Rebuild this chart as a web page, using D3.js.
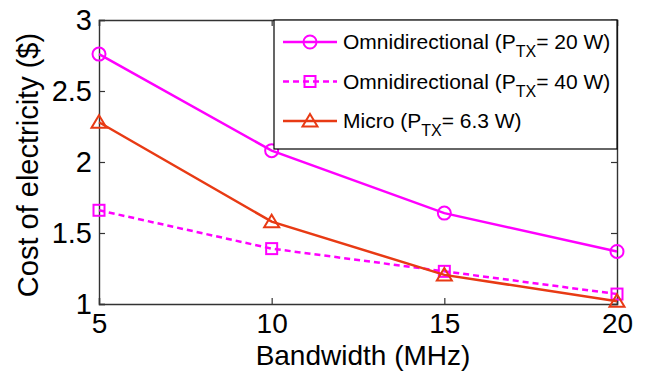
<!DOCTYPE html>
<html>
<head>
<meta charset="utf-8">
<script src="https://cdn.jsdelivr.net/npm/d3@7"></script>
<style>
  body { margin: 0; background: #fff; }
  text { font-family: "Liberation Sans", Arial, sans-serif; fill: #000; }
</style>
</head>
<body>
<script>
const width = 648;
const height = 373;
const margins = { top: 20, left: 99, bottom: 69, right: 31 };

// data
const bandwidth = [5, 10, 15, 20];
const omni20 = [2.76, 2.08, 1.64, 1.37];
const omni40 = [1.66, 1.39, 1.23, 1.07];
const micro = [2.28, 1.58, 1.205, 1.02];
const xTicks = [5, 10, 15, 20];
const yTicks = [1, 1.5, 2, 2.5, 3];

const series = [
  { name: "Omnidirectional (P", sub: "TX", tail: "= 20 W)", values: omni20, color: "#ff00ff", dash: null, marker: "circle" },
  { name: "Omnidirectional (P", sub: "TX", tail: "= 40 W)", values: omni40, color: "#ff00ff", dash: "6,4", marker: "square" },
  { name: "Micro (P", sub: "TX", tail: "= 6.3 W)", values: micro, color: "#e83a14", dash: null, marker: "triangle" },
];

const draw_width = width - margins.left - margins.right;
const draw_height = height - margins.top - margins.bottom;

const svg = d3.select("body").append("svg")
  .attr("width", width)
  .attr("height", height);

const xScale = d3.scaleLinear().domain([5, 20]).range([0, draw_width]);
const yScale = d3.scaleLinear().domain([1, 3]).range([draw_height, 0]);

const chart_g = svg.append("g")
  .attr("transform", "translate(" + margins.left + "," + margins.top + ")");

const axisColor = "#333";

// axes with inward ticks (matlab style box)
const xAxis = chart_g.append("g")
  .attr("transform", "translate(0," + draw_height + ")")
  .call(d3.axisBottom(xScale).tickValues(xTicks).tickSize(-6).tickFormat(d3.format("d")));
xAxis.selectAll("text").attr("y", 29).attr("dy", null).style("font-size", "28px");

const yAxis = chart_g.append("g")
  .call(d3.axisLeft(yScale).tickValues(yTicks).tickSize(-6).tickFormat(d => d));
yAxis.selectAll("text").attr("x", -7).style("font-size", "29px");

const topAxis = chart_g.append("g")
  .call(d3.axisTop(xScale).tickValues(xTicks).tickSize(-6).tickFormat(""));
const rightAxis = chart_g.append("g")
  .attr("transform", "translate(" + draw_width + ",0)")
  .call(d3.axisRight(yScale).tickValues(yTicks).tickSize(-6).tickFormat(""));

[xAxis, yAxis, topAxis, rightAxis].forEach(a => {
  a.select(".domain").attr("stroke", axisColor).attr("stroke-width", 1.4);
  a.selectAll(".tick line").attr("stroke", axisColor).attr("stroke-width", 1.2);
});

// lines
const line = d3.line()
  .x((d, i) => xScale(bandwidth[i]))
  .y(d => yScale(d));

function drawMarker(g, type, x, y, color) {
  if (type === "circle") {
    g.append("circle").attr("cx", x).attr("cy", y).attr("r", 6.5)
      .attr("fill", "none").attr("stroke", color).attr("stroke-width", 2);
  } else if (type === "square") {
    g.append("rect").attr("x", x - 5.5).attr("y", y - 5.5).attr("width", 11).attr("height", 11)
      .attr("fill", "none").attr("stroke", color).attr("stroke-width", 2);
  } else {
    g.append("path")
      .attr("d", "M" + x + "," + (y - 7) + "L" + (x + 7.5) + "," + (y + 5.5) + "L" + (x - 7.5) + "," + (y + 5.5) + "Z")
      .attr("fill", "none").attr("stroke", color).attr("stroke-width", 2);
  }
}

series.forEach(s => {
  chart_g.append("path")
    .datum(s.values)
    .attr("d", line)
    .attr("fill", "none")
    .attr("stroke", s.color)
    .attr("stroke-width", 2.5)
    .attr("stroke-dasharray", s.dash);
  const mg = chart_g.append("g");
  s.values.forEach((v, i) => drawMarker(mg, s.marker, xScale(bandwidth[i]), yScale(v), s.color));
});

// legend
const legend = svg.append("g");
legend.append("rect")
  .attr("x", 274).attr("y", 20)
  .attr("width", 343).attr("height", 129)
  .attr("fill", "#fff")
  .attr("stroke", "#000")
  .attr("stroke-width", 1.2);

series.forEach((s, i) => {
  const y = 42 + i * 39.5;
  legend.append("line")
    .attr("x1", 283).attr("x2", 337).attr("y1", y).attr("y2", y)
    .attr("stroke", s.color).attr("stroke-width", 2.5)
    .attr("stroke-dasharray", s.dash);
  drawMarker(legend, s.marker, 310, y, s.color);
  const t = legend.append("text")
    .attr("x", 343).attr("y", y + 7)
    .style("font-size", "21px");
  t.append("tspan").text(s.name);
  t.append("tspan").attr("dy", 8).style("font-size", "16px").text(s.sub);
  t.append("tspan").attr("dy", -8).text(s.tail);
});

// axis labels
svg.append("text")
  .attr("x", margins.left + draw_width / 2 + 5)
  .attr("y", 365)
  .attr("text-anchor", "middle")
  .style("font-size", "28px")
  .text("Bandwidth (MHz)");

svg.append("text")
  .attr("transform", "translate(38," + (margins.top + draw_height / 2 + 3) + ") rotate(-90)")
  .attr("text-anchor", "middle")
  .style("font-size", "29px")
  .text("Cost of electricity ($)");
</script>
</body>
</html>
